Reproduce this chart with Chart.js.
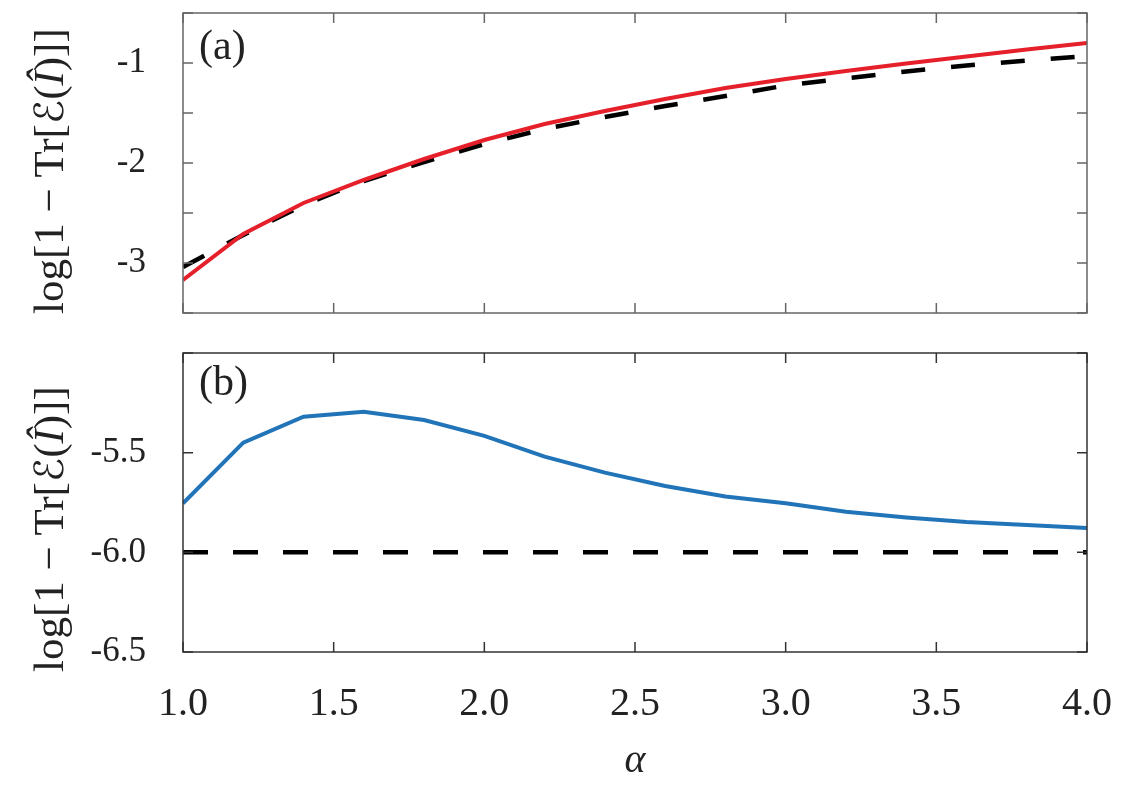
<!DOCTYPE html>
<html>
<head>
<meta charset="utf-8">
<script src="https://cdn.jsdelivr.net/npm/chart.js@4.4.1/dist/chart.umd.min.js"></script>
<style>
  body { margin: 0; background: #fff; }
  #wrap { position: relative; width: 1126px; height: 785px; }
  canvas { position: absolute; left: 0; }
  #chartA { top: 0; }
  #chartB { top: 330px; }
</style>
</head>
<body>
<div id="wrap">
  <canvas id="chartA" width="1126" height="330"></canvas>
  <canvas id="chartB" width="1126" height="455"></canvas>
</div>
<script>
// alpha values (x axis), shared by both panels
var alpha = [1.0, 1.2, 1.4, 1.6, 1.8, 2.0, 2.2, 2.4, 2.6, 2.8, 3.0, 3.2, 3.4, 3.6, 3.8, 4.0];

// panel (a)
var solidA = [-3.17, -2.71, -2.40, -2.17, -1.96, -1.77, -1.61, -1.48, -1.36, -1.25, -1.16, -1.08, -1.005, -0.935, -0.865, -0.80];
var dashedA = [-3.04, -2.72, -2.42, -2.18, -1.99, -1.81, -1.66, -1.54, -1.43, -1.33, -1.225, -1.155, -1.085, -1.025, -0.975, -0.93];

// panel (b)
var solidB = [-5.754, -5.45, -5.32, -5.295, -5.336, -5.416, -5.52, -5.60, -5.667, -5.72, -5.754, -5.796, -5.825, -5.848, -5.863, -5.878];
var dashedB = [-6.0, -6.0, -6.0, -6.0, -6.0, -6.0, -6.0, -6.0, -6.0, -6.0, -6.0, -6.0, -6.0, -6.0, -6.0, -6.0];

var xTicks = ['1.0', '1.5', '2.0', '2.5', '3.0', '3.5', '4.0'];
var yTicksA = ['-1', '-2', '-3'];
var yTicksB = ['-5.5', '-6.0', '-6.5'];

var SERIF = '"Liberation Serif", "Times New Roman", serif';

function toPoints(xs, ys) {
    var pts = [];
    for (var i = 0; i < xs.length; i++) pts.push({x: xs[i], y: ys[i]});
    return pts;
}

// y axis title, drawn in pieces so the I can be italic
function drawYTitle(ctx, x, y0) {
    var roman = '43px ' + SERIF;
    var parts = [
        ['log[1 \u2212 Tr[', roman],
        ['\u2130', '40px "DejaVu Serif", "DejaVu Sans", serif'],
        ['(', roman],
        ['\u00CE', 'italic 43px ' + SERIF],
        [')]]', roman]
    ];
    ctx.save();
    ctx.translate(x, y0);
    ctx.rotate(-Math.PI / 2);
    ctx.textBaseline = 'alphabetic';
    ctx.textAlign = 'left';
    ctx.fillStyle = '#222';
    var pos = 0;
    parts.forEach(function(p) {
        ctx.font = p[1];
        ctx.fillText(p[0], pos, 0);
        pos += ctx.measureText(p[0]).width;
    });
    ctx.restore();
}

// box round the plot, inward tick marks, panel letter and y title
var framePlugin = {
    id: 'frame',
    afterDatasetsDraw: function(chart, args, opts) {
        var ctx = chart.ctx, a = chart.chartArea;
        var sx = chart.scales.x, sy = chart.scales.y;
        ctx.save();
        ctx.strokeStyle = opts.color;
        ctx.lineWidth = 1.5;
        ctx.strokeRect(a.left, a.top, a.right - a.left, a.bottom - a.top);
        ctx.beginPath();
        sx.ticks.forEach(function(t) {
            var px = sx.getPixelForValue(t.value);
            ctx.moveTo(px, a.bottom); ctx.lineTo(px, a.bottom - 10);
            ctx.moveTo(px, a.top); ctx.lineTo(px, a.top + 10);
        });
        sy.ticks.forEach(function(t) {
            var py = sy.getPixelForValue(t.value);
            ctx.moveTo(a.left, py); ctx.lineTo(a.left + 10, py);
            ctx.moveTo(a.right, py); ctx.lineTo(a.right - 10, py);
        });
        ctx.stroke();

        ctx.fillStyle = '#222';
        ctx.font = '42px ' + SERIF;
        ctx.textBaseline = 'middle';
        ctx.fillText(opts.label, 199, opts.labelY);

        drawYTitle(ctx, opts.titleX, opts.titleY);
        ctx.restore();
    }
};

function isTick(v, list) {
    for (var i = 0; i < list.length; i++) {
        if (Math.abs(parseFloat(list[i]) - v) < 1e-6) return list[i];
    }
    return '';
}

function fitX(h) {
    return function(s) {
        s.height = h;
        s.paddingLeft = 0; s.paddingRight = 0; s.paddingTop = 0; s.paddingBottom = 0;
    };
}
function fitY(s) {
    s.width = 183;
    s.paddingLeft = 0; s.paddingRight = 0; s.paddingTop = 0; s.paddingBottom = 0;
}

var chartA = new Chart(document.getElementById('chartA'), {
    type: 'line',
    data: {
        datasets: [{
            data: toPoints(alpha, solidA),
            borderColor: '#e5202a',
            borderWidth: 4,
            pointRadius: 0,
            tension: 0,
            order: 0
        }, {
            data: toPoints(alpha, dashedA),
            borderColor: '#000',
            borderWidth: 4.5,
            borderDash: [24, 26],
            pointRadius: 0,
            tension: 0,
            order: 1
        }]
    },
    options: {
        responsive: false,
        animation: false,
        layout: { padding: { top: 13, right: 39, bottom: 0, left: 0 } },
        plugins: {
            legend: { display: false },
            tooltip: { enabled: false },
            frame: { color: '#666', label: '(a)', labelY: 48, titleX: 63, titleY: 314 }
        },
        scales: {
            x: {
                type: 'linear', min: 1, max: 4,
                grid: { display: false }, border: { display: false },
                ticks: { display: false, stepSize: 0.5 },
                afterFit: fitX(17)
            },
            y: {
                min: -3.5, max: -0.5,
                grid: { display: false }, border: { display: false },
                ticks: {
                    stepSize: 0.5, padding: 29, color: '#222',
                    font: { family: SERIF, size: 35 },
                    callback: function(v) { return isTick(v, yTicksA); }
                },
                afterFit: fitY
            }
        }
    },
    plugins: [framePlugin]
});

var chartB = new Chart(document.getElementById('chartB'), {
    type: 'line',
    data: {
        datasets: [{
            data: toPoints(alpha, solidB),
            borderColor: '#2274b8',
            borderWidth: 4,
            pointRadius: 0,
            tension: 0,
            order: 0
        }, {
            data: toPoints(alpha, dashedB),
            borderColor: '#000',
            borderWidth: 4.5,
            borderDash: [25, 25],
            pointRadius: 0,
            tension: 0,
            order: 1
        }]
    },
    options: {
        responsive: false,
        animation: false,
        layout: { padding: { top: 23, right: 39, bottom: 0, left: 0 } },
        plugins: {
            legend: { display: false },
            tooltip: { enabled: false },
            frame: { color: '#333', label: '(b)', labelY: 54, titleX: 63, titleY: 342 }
        },
        scales: {
            x: {
                type: 'linear', min: 1, max: 4,
                grid: { display: false }, border: { display: false },
                ticks: {
                    stepSize: 0.5, padding: 20, color: '#222', maxRotation: 0,
                    font: { family: SERIF, size: 40 },
                    callback: function(v) { return isTick(v, xTicks); }
                },
                title: {
                    display: true, text: '\u03B1', color: '#222',
                    font: { family: SERIF, size: 40, style: 'italic' },
                    padding: { top: 0, bottom: 0 }
                },
                afterFit: fitX(133)
            },
            y: {
                min: -6.5, max: -5.0,
                grid: { display: false }, border: { display: false },
                ticks: {
                    stepSize: 0.5, padding: 29, color: '#222',
                    font: { family: SERIF, size: 35 },
                    callback: function(v) { return isTick(v, yTicksB); }
                },
                afterFit: fitY
            }
        }
    },
    plugins: [framePlugin]
});
</script>
</body>
</html>
